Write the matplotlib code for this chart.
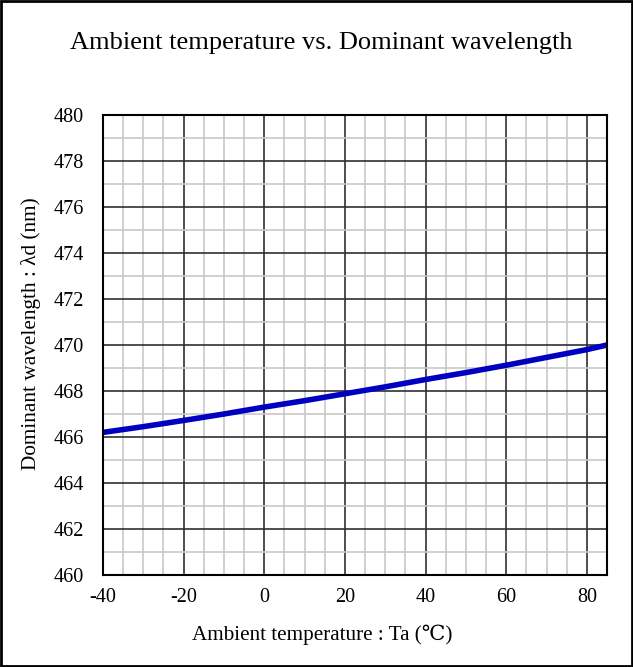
import matplotlib
matplotlib.use("Agg")
import matplotlib.pyplot as plt
from matplotlib.patches import Rectangle
import numpy as np

temps = [-40, -30, -20, -10, 0, 10, 20, 30, 40, 50, 60, 70, 80, 85]
wavelength = [466.2, 466.45, 466.72, 467.0, 467.3, 467.58, 467.88, 468.18, 468.5, 468.8, 469.12, 469.46, 469.8, 470.0]
xticks = [-40, -20, 0, 20, 40, 60, 80]
xticklabels = ['-40', '-20', '0', '20', '40', '60', '80']
yticks = list(range(460, 481, 2))

plt.rcParams['font.family'] = ['Liberation Serif', 'DejaVu Serif', 'Noto Sans CJK JP']

fig = plt.figure(figsize=(6.33, 6.67), dpi=100)
W, H = 633, 667
ax = fig.add_axes([103 / W, 1 - 575 / H, (607 - 103) / W, (575 - 115) / H])

ax.set_xlim(-40, 85)
ax.set_ylim(460, 480)
ax.set_xticks(xticks)
ax.set_xticklabels(xticklabels)
ax.set_yticks(yticks)
ax.set_xticks(np.arange(-40, 86, 5), minor=True)
ax.set_yticks(np.arange(460, 481, 1), minor=True)
ax.grid(which='minor', color='#c8c8c8', linewidth=1.2)
ax.grid(which='major', color='#303030', linewidth=1.2)
ax.set_axisbelow(True)
ax.tick_params(which='both', length=0, labelsize=14.5)
ax.tick_params(axis='y', pad=14)
ax.tick_params(axis='x', pad=9)
for s in ax.spines.values():
    s.set_linewidth(1.5)
    s.set_color('black')

ax.plot(temps, wavelength, color='#0000c0', linewidth=4, solid_capstyle='butt', clip_on=True)

fig.text(322 / W, 1 - 635 / H, 'Ambient temperature : Ta (\u2103)',
         ha='center', va='center', fontsize=15.2)
fig.text(31 / W, 1 - 334 / H, 'Dominant wavelength : \u03bbd (nm)',
         ha='center', va='center', rotation=90, fontsize=15.3)
fig.text(321 / W, 1 - 49 / H, 'Ambient temperature vs. Dominant wavelength',
         ha='center', va='baseline', fontsize=19)

fig.patches.append(Rectangle((0.002, 0.002), 0.996, 0.996, transform=fig.transFigure,
                             fill=False, edgecolor='black', linewidth=2))

fig.savefig('out.png', dpi=100)
